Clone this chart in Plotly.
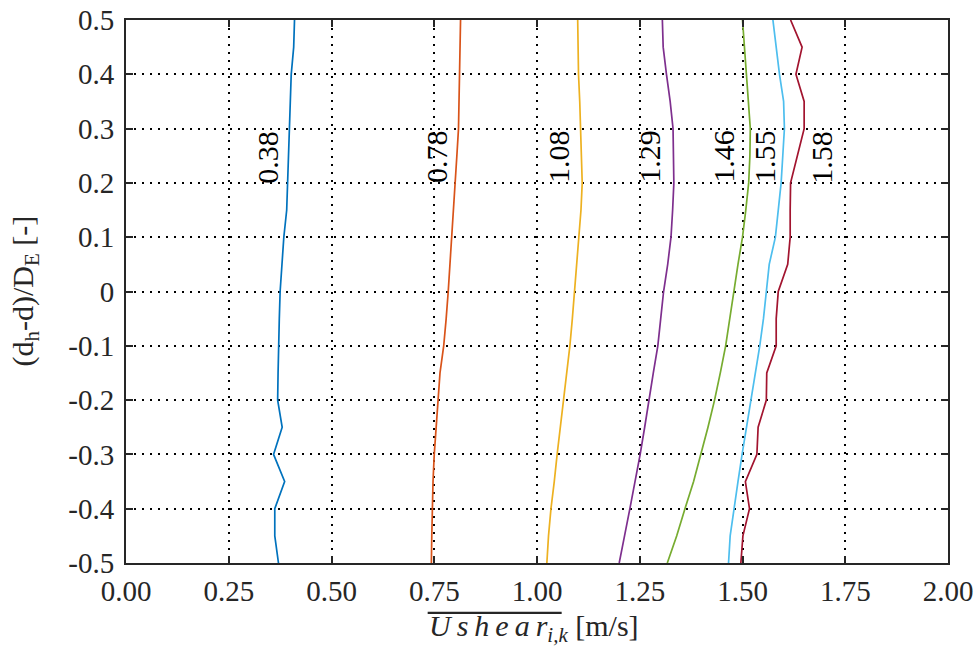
import plotly.graph_objects as go

# y positions (normalized depth)
y_pos = [0.5, 0.45, 0.4, 0.35, 0.3, 0.25, 0.2, 0.15, 0.1, 0.05, 0.0,
         -0.05, -0.1, -0.15, -0.2, -0.25, -0.3, -0.35, -0.4, -0.45, -0.5]

u_038 = [0.410, 0.408, 0.402, 0.400, 0.398, 0.396, 0.394, 0.391, 0.384, 0.380, 0.375,
         0.373, 0.371, 0.370, 0.369, 0.380, 0.359, 0.386, 0.362, 0.362, 0.371]
u_078 = [0.814, 0.813, 0.811, 0.810, 0.809, 0.805, 0.801, 0.797, 0.793, 0.788, 0.784,
         0.779, 0.773, 0.764, 0.759, 0.755, 0.750, 0.747, 0.745, 0.744, 0.743]
u_108 = [1.099, 1.100, 1.101, 1.104, 1.106, 1.108, 1.110, 1.107, 1.102, 1.097, 1.091,
         1.086, 1.080, 1.072, 1.064, 1.057, 1.049, 1.042, 1.034, 1.028, 1.024]
u_129 = [1.305, 1.307, 1.315, 1.324, 1.331, 1.332, 1.333, 1.330, 1.326, 1.318, 1.308,
         1.301, 1.294, 1.283, 1.273, 1.262, 1.251, 1.239, 1.226, 1.213, 1.200]
u_146 = [1.500, 1.505, 1.510, 1.515, 1.519, 1.518, 1.515, 1.508, 1.500, 1.489, 1.479,
         1.470, 1.459, 1.446, 1.432, 1.416, 1.399, 1.381, 1.360, 1.340, 1.317]
u_155 = [1.574, 1.582, 1.590, 1.600, 1.602, 1.598, 1.594, 1.587, 1.580, 1.565, 1.558,
         1.551, 1.542, 1.531, 1.520, 1.509, 1.499, 1.489, 1.480, 1.470, 1.466]
u_158 = [1.617, 1.645, 1.630, 1.650, 1.650, 1.633, 1.617, 1.616, 1.616, 1.610, 1.587,
         1.582, 1.582, 1.559, 1.558, 1.538, 1.535, 1.507, 1.517, 1.501, 1.496]

series = [u_038, u_078, u_108, u_129, u_146, u_155, u_158]
series_labels = ["0.38", "0.78", "1.08", "1.29", "1.46", "1.55", "1.58"]
colors = ["#0072BD", "#D95319", "#EDB120", "#7E2F8E", "#77AC30", "#4DBEEE", "#A2142F"]

label_x = [0.345, 0.757, 1.054, 1.275, 1.455, 1.555, 1.693]
label_y = [0.248, 0.248, 0.248, 0.248, 0.248, 0.248, 0.248]

x_ticks = [0.0, 0.25, 0.5, 0.75, 1.0, 1.25, 1.5, 1.75, 2.0]
x_ticktext = ["0.00", "0.25", "0.50", "0.75", "1.00", "1.25", "1.50", "1.75", "2.00"]
y_ticks = [0.5, 0.4, 0.3, 0.2, 0.1, 0.0, -0.1, -0.2, -0.3, -0.4, -0.5]
y_ticktext = ["0.5", "0.4", "0.3", "0.2", "0.1", "0", "-0.1", "-0.2", "-0.3", "-0.4", "-0.5"]

FONT = "Liberation Serif, Times New Roman, serif"
AXC = "#262626"

fig = go.Figure()
for vals, name, c in zip(series, series_labels, colors):
    fig.add_trace(go.Scatter(x=vals, y=y_pos, mode="lines", name=name,
                             line=dict(color=c, width=1.7), showlegend=False,
                             hoverinfo="skip"))

for lx, ly, t in zip(label_x, label_y, series_labels):
    fig.add_annotation(x=lx, y=ly, xref="x", yref="y", text=t, showarrow=False,
                       textangle=-90, font=dict(family=FONT, size=30, color="black"))

axis_common = dict(showline=True, linecolor=AXC, linewidth=2, mirror="ticks",
                   ticks="inside", ticklen=7, tickwidth=2, tickcolor=AXC,
                   showgrid=True, gridcolor="black", gridwidth=1.6, griddash="2px,6px",
                   zeroline=False, automargin=False,
                   tickfont=dict(family=FONT, size=29, color=AXC))

fig.update_xaxes(range=[0, 2], tickvals=x_ticks, ticktext=x_ticktext,
                 ticklabelstandoff=1, **axis_common)
fig.update_yaxes(range=[-0.5, 0.5], tickvals=y_ticks, ticktext=y_ticktext,
                 ticklabelstandoff=4, **axis_common)

# axis titles
fig.add_annotation(xref="paper", yref="paper", x=-0.124, y=0.5, showarrow=False,
                   textangle=-90, xanchor="center", yanchor="middle",
                   text="(d<sub>h</sub>-d)/D<sub>E</sub> [-]",
                   font=dict(family=FONT, size=30, color=AXC))
THIN = "\u2009"
ushear = THIN.join("Ushear")
fig.add_annotation(xref="paper", yref="paper", x=0.496, y=-0.12, yanchor="middle",
                   showarrow=False,
                   text="<i>" + ushear + "</i><sub><i>i,k</i></sub> [m/s]",
                   font=dict(family=FONT, size=30, color=AXC))
# overline above the x-axis title symbol
fig.add_shape(type="line", xref="paper", yref="paper", x0=0.367, x1=0.530,
              y0=-0.092, y1=-0.092, line=dict(color=AXC, width=2.2))

fig.update_layout(width=979, height=650, margin=dict(l=126, r=31, t=20, b=87),
                  plot_bgcolor="white", paper_bgcolor="white",
                  font=dict(family=FONT, color=AXC), hovermode=False)

fig.write_html("out.html", config={"displayModeBar": False},
               post_script="document.body.style.margin='0px';document.body.style.overflow='hidden';")
